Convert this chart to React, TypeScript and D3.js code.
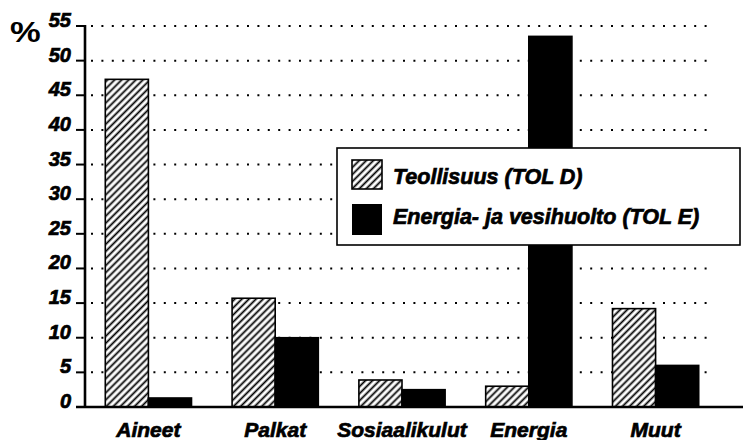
import React from "react";
import * as d3 from "d3";

const categories = ["Aineet", "Palkat", "Sosiaalikulut", "Energia", "Muut"];
const seriesNames = ["Teollisuus (TOL D)", "Energia- ja vesihuolto (TOL E)"];
const teollisuus = [47.3, 15.7, 3.9, 3.0, 14.2];
const energia = [1.3, 10.0, 2.5, 53.5, 6.0];
const yTicks = [0, 5, 10, 15, 20, 25, 30, 35, 40, 45, 50, 55];

const W = 744;
const H = 440;
const FONT = "'Liberation Sans', Arial, Helvetica, sans-serif";

export default function App() {
  const x = d3.scaleBand<string>().domain(categories).range([85, 719]).paddingInner(0.32).paddingOuter(0.16);
  const x1 = d3.scaleBand<number>().domain([0, 1]).range([0, x.bandwidth()]);
  const y = d3.scaleLinear().domain([0, 55]).range([407, 26]);
  const series = [teollisuus, energia];

  return (
    <svg width={W} height={H} style={{ position: "absolute", left: 0, top: 0, background: "#fff" }}>
      <defs>
        <pattern id="hatch" patternUnits="userSpaceOnUse" width={5} height={5} patternTransform="rotate(45)">
          <rect width={5} height={5} fill="#fff" />
          <line x1={2.5} y1={0} x2={2.5} y2={5} stroke="#000" strokeWidth={1.8} />
        </pattern>
      </defs>
      <rect width={W} height={H} fill="#fff" />
      {/* gridlines */}
      {yTicks.filter((t) => t > 0).map((t) => (
        <line key={"g" + t} x1={91} x2={712} y1={y(t)} y2={y(t)} stroke="#000" strokeWidth={2} strokeDasharray="2 8.4" />
      ))}
      {/* bars */}
      {categories.map((c, i) =>
        series.map((s, j) => {
          const bx = (x(c) as number) + (x1(j) as number);
          const top = y(s[i]);
          return (
            <rect
              key={c + j}
              x={bx}
              y={top}
              width={x1.bandwidth()}
              height={y(0) - top}
              fill={j === 0 ? "url(#hatch)" : "#000"}
              stroke="#000"
              strokeWidth={1.6}
            />
          );
        })
      )}
      {/* y axis */}
      <line x1={85} x2={85} y1={y(55) - 1} y2={y(0)} stroke="#000" strokeWidth={2.6} />
      {yTicks.map((t) => (
        <g key={"t" + t}>
          <line x1={76} x2={85} y1={y(t)} y2={y(t)} stroke="#000" strokeWidth={2} />
          <text
            x={71}
            y={y(t) + 1}
            textAnchor="end"
            fontFamily={FONT}
            fontWeight="bold"
            fontStyle="italic"
            fontSize={20}
            stroke="#000"
            strokeWidth={0.7}
          >
            {t}
          </text>
        </g>
      ))}
      {/* baseline */}
      <line x1={76} x2={743} y1={y(0)} y2={y(0)} stroke="#000" strokeWidth={2.6} />
      {/* % */}
      <text x={0} y={0} fontFamily={FONT} fontWeight="bold" fontSize={30} transform="translate(10,42) scale(1.15,1)">
        %
      </text>
      {/* category labels */}
      {categories.map((c) => (
        <text
          key={"c" + c}
          x={(x(c) as number) + x.bandwidth() / 2}
          y={437}
          textAnchor="middle"
          fontFamily={FONT}
          fontWeight="bold"
          fontStyle="italic"
          fontSize={21}
          stroke="#000"
          strokeWidth={0.7}
        >
          {c}
        </text>
      ))}
      {/* legend */}
      <rect x={337} y={148} width={403} height={97} fill="#fff" stroke="#000" strokeWidth={1.6} />
      <rect x={352} y={160} width={30} height={29} fill="url(#hatch)" stroke="#000" strokeWidth={1.6} />
      <rect x={352} y={204} width={30} height={31} fill="#000" />
      {seriesNames.map((n, i) => (
        <text
          key={n}
          x={393}
          y={184 + i * 40}
          fontFamily={FONT}
          fontWeight="bold"
          fontStyle="italic"
          fontSize={21.5}
          stroke="#000"
          strokeWidth={0.7}
        >
          {n}
        </text>
      ))}
    </svg>
  );
}
